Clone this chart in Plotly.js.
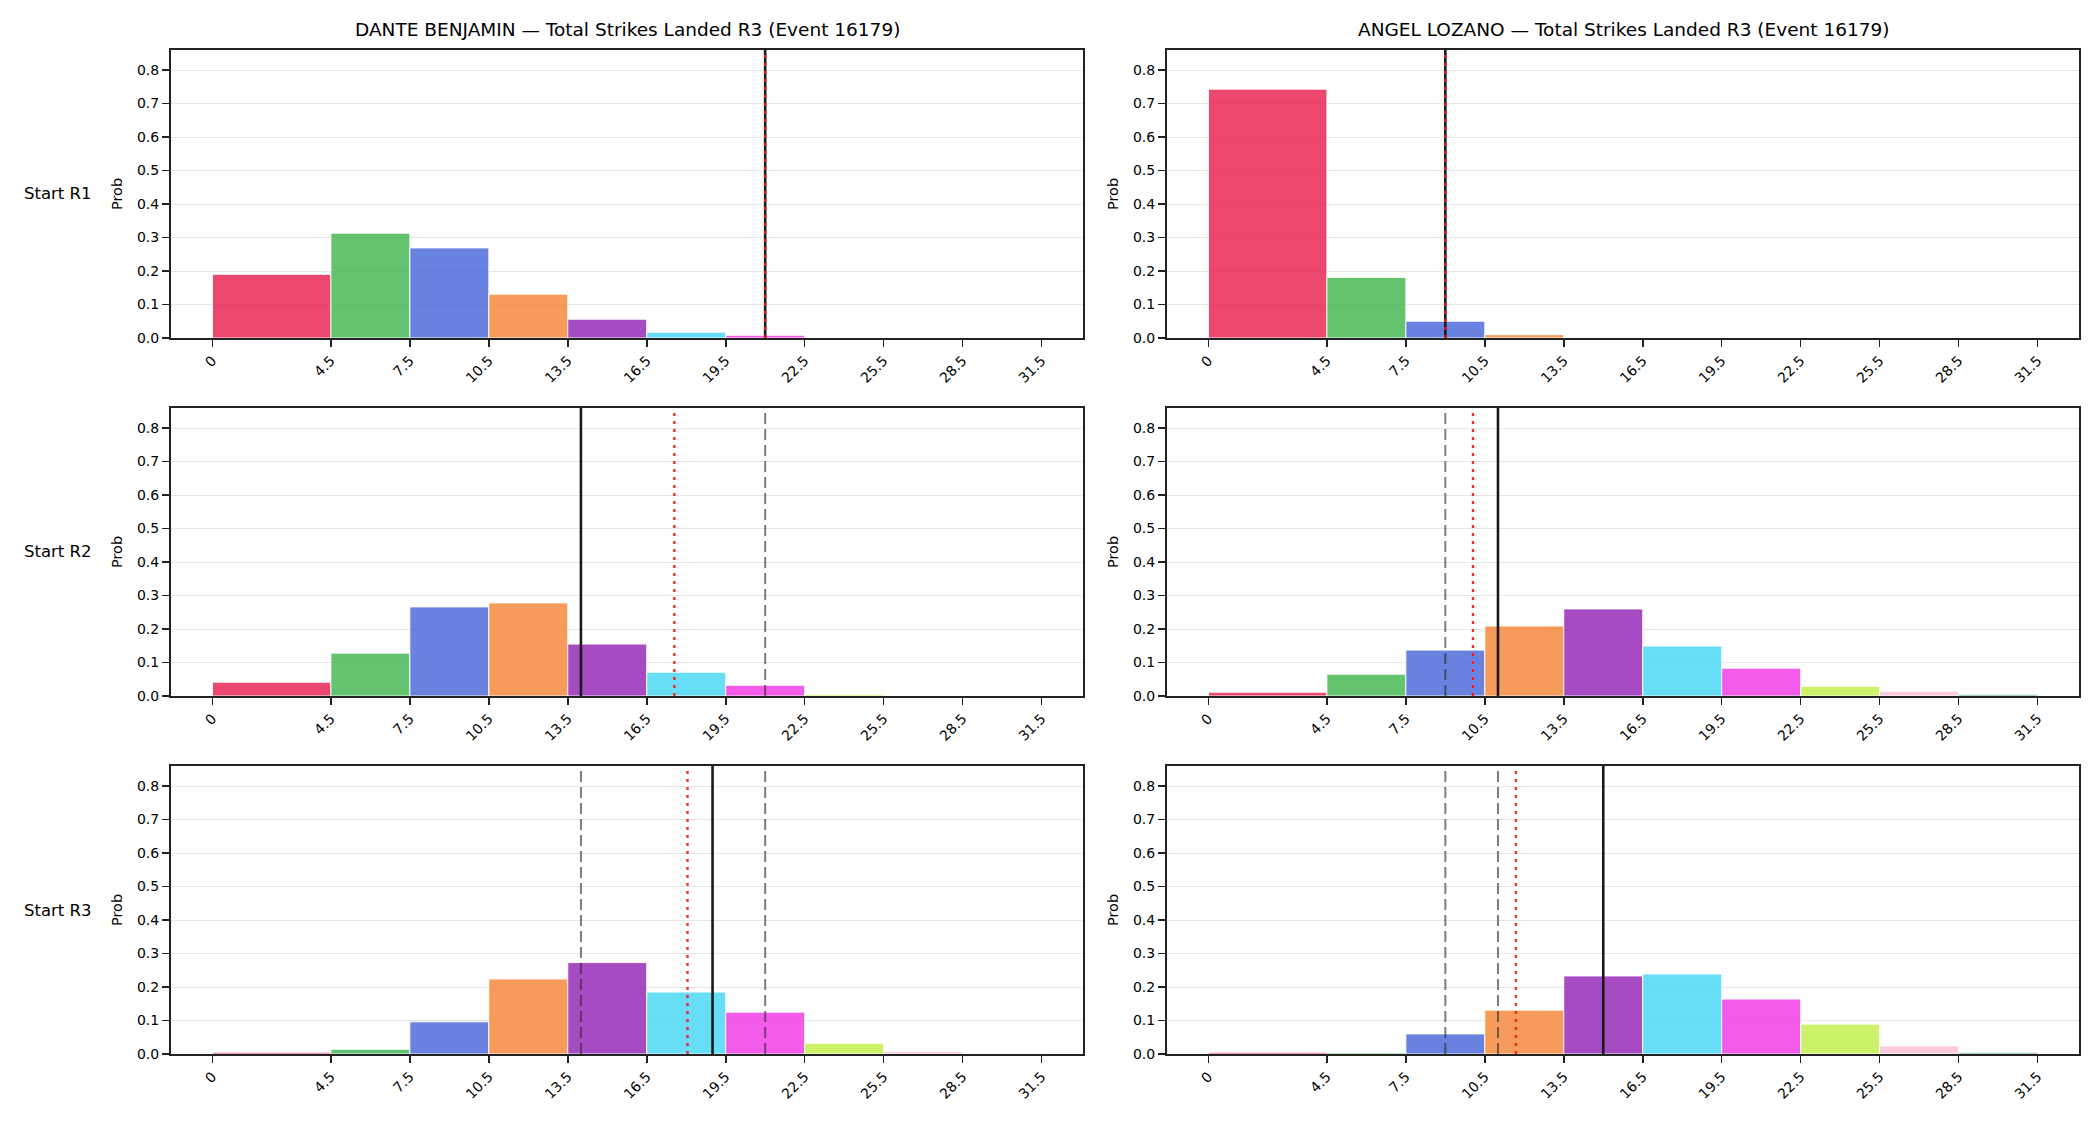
<!DOCTYPE html>
<html>
<head>
<meta charset="utf-8">
<script src="https://cdn.plot.ly/plotly-3.0.1.min.js"></script>
<style>
  html, body { margin: 0; padding: 0; background: #ffffff; }
  #chart { width: 2100px; height: 1125px; }
</style>
</head>
<body>
<div id="chart"></div>
<script>
// ---- Data ----
const binEdges = [0, 4.5, 7.5, 10.5, 13.5, 16.5, 19.5, 22.5, 25.5, 28.5, 31.5];
const tickLabels = ["0", "4.5", "7.5", "10.5", "13.5", "16.5", "19.5", "22.5", "25.5", "28.5", "31.5"];
const binColors = ["#e6194b", "#3cb44b", "#4363d8", "#f58231", "#911eb4", "#42d4f4", "#f032e6", "#bfef45", "#fabed4", "#469990"];
const fighters = ["DANTE BENJAMIN", "ANGEL LOZANO"];
const rowLabels = ["Start R1", "Start R2", "Start R3"];

const danteR1 = [0.190, 0.313, 0.269, 0.131, 0.056, 0.017, 0.008, 0.001, 0.0003, 0.0001];
const danteR2 = [0.041, 0.128, 0.266, 0.278, 0.155, 0.071, 0.032, 0.005, 0.001, 0.0002];
const danteR3 = [0.005, 0.014, 0.096, 0.224, 0.273, 0.185, 0.125, 0.032, 0.008, 0.001];
const angelR1 = [0.743, 0.181, 0.050, 0.010, 0.001, 0.0002, 0, 0, 0, 0];
const angelR2 = [0.011, 0.065, 0.137, 0.209, 0.260, 0.149, 0.083, 0.029, 0.014, 0.005];
const angelR3 = [0.005, 0.004, 0.060, 0.131, 0.233, 0.239, 0.164, 0.089, 0.024, 0.005];

// reference lines per row (R1, R2, R3)
const danteSolid = [21, 14, 19];
const danteDotted = [21, 17.55, 18.05];
const danteDashed = [[], [21], [14, 21]];
const angelSolid = [9, 11, 15];
const angelDotted = [9, 10.05, 11.68];
const angelDashed = [[], [9], [9, 11]];

// ---- Build ----
const W = 2100, H = 1125;
const colX = [[171, 1083], [1167, 2079]];          // px, left/right of axes
const rowY = [[50, 338], [408, 696], [766, 1054]];  // px, top/bottom of axes
const probs = [[danteR1, angelR1], [danteR2, angelR2], [danteR3, angelR3]];
const solids = [danteSolid, angelSolid];
const dotteds = [danteDotted, angelDotted];
const dasheds = [danteDashed, angelDashed];

function rgba(hex, a) {
  const r = parseInt(hex.slice(1, 3), 16), g = parseInt(hex.slice(3, 5), 16), b = parseInt(hex.slice(5, 7), 16);
  return `rgba(${r},${g},${b},${a})`;
}

const centers = binEdges.slice(0, -1).map((e, i) => (e + binEdges[i + 1]) / 2);
const widths = binEdges.slice(0, -1).map((e, i) => binEdges[i + 1] - e);
const fills = binColors.map(c => rgba(c, 0.8));

const FONT = "DejaVu Sans, Liberation Sans, sans-serif";
const traces = [];
const layout = {
  width: W, height: H,
  margin: { l: 0, r: 0, t: 0, b: 0 },
  paper_bgcolor: "#ffffff",
  plot_bgcolor: "#ffffff",
  showlegend: false,
  bargap: 0,
  font: { family: FONT, color: "#000000", size: 14 },
  shapes: [],
  annotations: []
};

for (let r = 0; r < 3; r++) {
  for (let c = 0; c < 2; c++) {
    const idx = r * 2 + c + 1;
    const xa = idx === 1 ? "x" : "x" + idx;
    const ya = idx === 1 ? "y" : "y" + idx;
    const xKey = idx === 1 ? "xaxis" : "xaxis" + idx;
    const yKey = idx === 1 ? "yaxis" : "yaxis" + idx;

    traces.push({
      type: "bar",
      x: centers,
      y: probs[r][c],
      width: widths,
      xaxis: xa, yaxis: ya,
      marker: { color: fills, line: { color: "rgba(255,255,255,0.9)", width: 1 } },
      hoverinfo: "x+y"
    });

    layout[xKey] = {
      domain: [colX[c][0] / W, colX[c][1] / W],
      anchor: ya,
      range: [-1.575, 33.075],
      tickmode: "array",
      tickvals: binEdges,
      ticktext: tickLabels,
      tickangle: -45,
      ticks: "outside", ticklen: 7, tickwidth: 1.6, tickcolor: "#222222",
      showgrid: false, zeroline: false,
      showline: true, mirror: true, linecolor: "#222222", linewidth: 2,
      tickfont: { family: FONT, size: 14, color: "#000000" },
      automargin: false
    };
    layout[yKey] = {
      domain: [1 - rowY[r][1] / H, 1 - rowY[r][0] / H],
      anchor: xa,
      range: [0, 0.86],
      tickmode: "array",
      tickvals: [0, 0.1, 0.2, 0.3, 0.4, 0.5, 0.6, 0.7, 0.8],
      ticktext: ["0.0", "0.1", "0.2", "0.3", "0.4", "0.5", "0.6", "0.7", "0.8"],
      ticks: "outside", ticklen: 7, tickwidth: 1.6, tickcolor: "#222222",
      showgrid: true, gridcolor: "#e6e6e6", gridwidth: 1,
      zeroline: false,
      showline: true, mirror: true, linecolor: "#222222", linewidth: 2,
      tickfont: { family: FONT, size: 14, color: "#000000" },
      title: { text: "Prob", font: { family: FONT, size: 14.5, color: "#000000" }, standoff: 11 },
      automargin: false
    };

    // dashed grey lines
    dasheds[c][r].forEach(v => {
      layout.shapes.push({
        type: "line", xref: xa, yref: ya + " domain",
        x0: v, x1: v, y0: 0, y1: 0.985,
        line: { color: "rgba(40,40,40,0.6)", width: 2, dash: "11px,5px" }
      });
    });
    // solid black line
    layout.shapes.push({
      type: "line", xref: xa, yref: ya + " domain",
      x0: solids[c][r], x1: solids[c][r], y0: 0, y1: 1,
      line: { color: "#1a1a1a", width: 2.6 }
    });
    // red dotted line
    layout.shapes.push({
      type: "line", xref: xa, yref: ya + " domain",
      x0: dotteds[c][r], x1: dotteds[c][r], y0: 0, y1: 0.985,
      line: { color: "rgba(255,20,20,0.9)", width: 2.4, dash: "3px,5px" }
    });
  }
}

// column titles
for (let c = 0; c < 2; c++) {
  layout.annotations.push({
    xref: "paper", yref: "paper",
    x: (colX[c][0] + colX[c][1]) / 2 / W,
    y: 1 - 30 / H,
    xanchor: "center", yanchor: "middle",
    text: fighters[c] + " \u2014 Total Strikes Landed R3 (Event 16179)",
    showarrow: false,
    font: { family: FONT, size: 18.5, color: "#000000" }
  });
}
// row labels
for (let r = 0; r < 3; r++) {
  layout.annotations.push({
    xref: "paper", yref: "paper",
    x: 22 / W,
    y: 1 - (rowY[r][0] + rowY[r][1]) / 2 / H,
    xanchor: "left", yanchor: "middle",
    text: rowLabels[r],
    showarrow: false,
    font: { family: FONT, size: 16.5, color: "#000000" }
  });
}

Plotly.newPlot("chart", traces, layout, { displayModeBar: false, staticPlot: true });
</script>
</body>
</html>
